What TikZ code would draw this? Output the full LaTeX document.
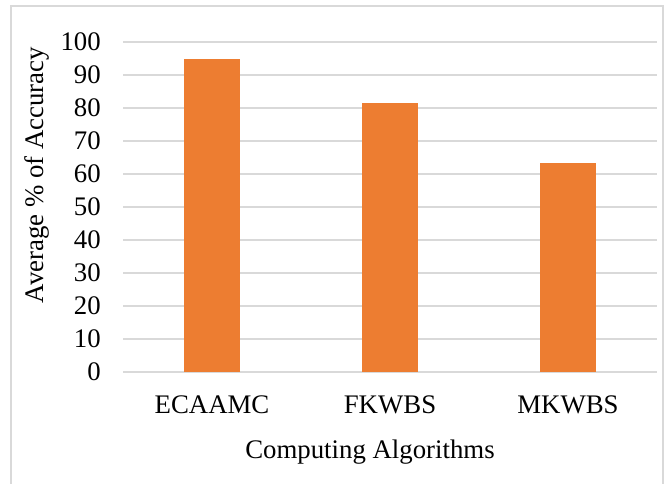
\documentclass[tikz,border=0pt]{standalone}
\usepackage{fontspec}
\setmainfont{Liberation Serif}
\definecolor{barc}{HTML}{ED7D31}
\definecolor{gridc}{HTML}{D9D9D9}
\definecolor{framec}{HTML}{D9D9D9}
\begin{document}
\begin{tikzpicture}[x=1pt,y=-1pt,
  lbl/.style={font=\fontsize{26.8}{32}\selectfont, inner sep=0pt},
  gridline/.style={draw=gridc, line width=1.3pt},
  barstyle/.style={fill=barc, draw=none}]
\useasboundingbox (0,0) rectangle (665,483);
\fill[white] (0,0) rectangle (665,483);
% frame
\draw[framec, line width=1.5pt] (11,495) -- (11,6) -- (663,6) -- (663,495);
% gridlines and tick labels
\foreach \v in {0,10,...,100} {
  \draw[gridline] (123,{372-3.3*\v}) -- (657,{372-3.3*\v});
  \node[lbl, anchor=east] (t\v) at (101,{372-3.3*\v}) {\v};
}
% bars
\foreach \c/\val/\name in {212/95/ECAAMC, 390/81.6/FKWBS, 568/63.3/MKWBS} {
  \fill[barstyle] ({\c-28},372) rectangle ({\c+28},{372-3.3*\val});
  \node[lbl] (c\name) at (\c,405) {\name};
}
% axis titles
\node[lbl] (xtitle) at (370,452) {Computing Algorithms};
\node[lbl, rotate=90] (ytitle) at (37,175) {Average \% of Accuracy};
\end{tikzpicture}
\end{document}
